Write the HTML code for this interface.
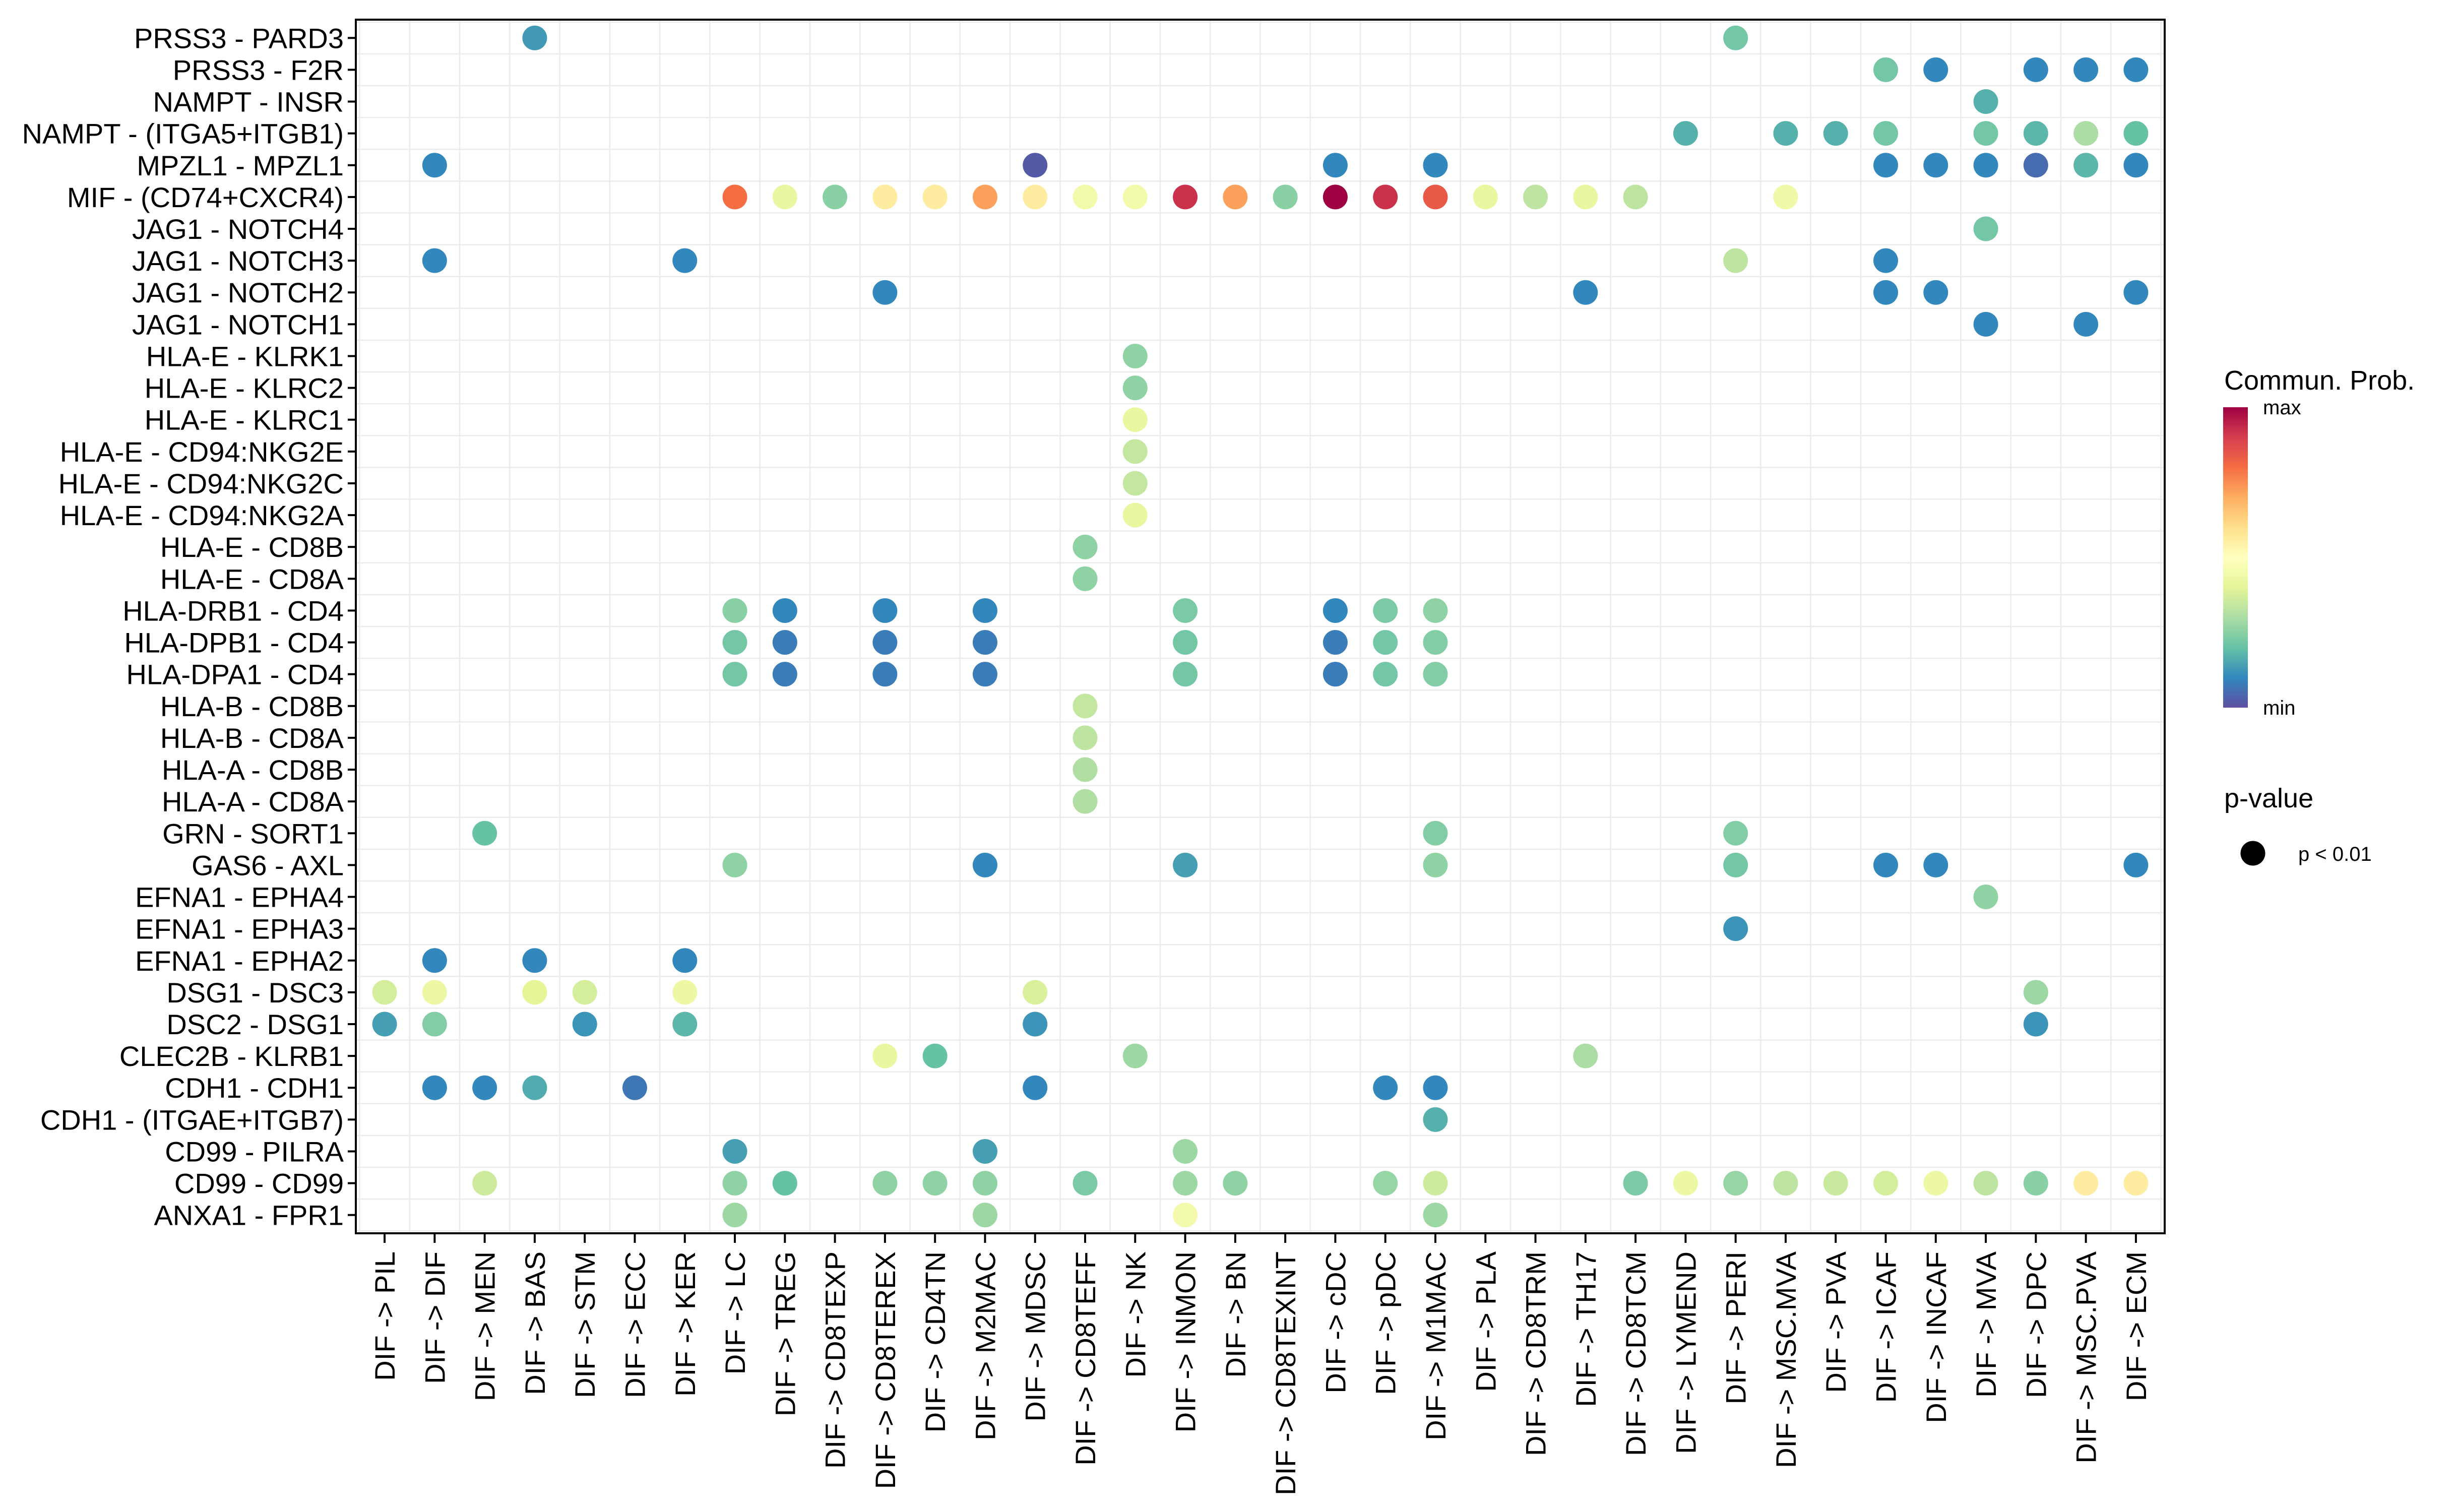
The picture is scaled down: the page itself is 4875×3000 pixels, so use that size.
<!DOCTYPE html>
<html><head><meta charset="utf-8"><style>
html,body{margin:0;padding:0;background:#fff;}
svg{display:block;}
text{font-family:"Liberation Sans",sans-serif;fill:#000;}
</style></head><body>
<svg id="chart" width="4875" height="3000" viewBox="0 0 4875 3000" xmlns="http://www.w3.org/2000/svg">
<rect x="0" y="0" width="4875" height="3000" fill="#fff"/>
<g id="grid"></g>
<g id="dots"></g>
<rect x="706" y="39" width="3589" height="2408" fill="none" stroke="#000" stroke-width="4"/>
<g id="yaxis"></g>
<g id="xaxis"></g>
<g>
<defs><linearGradient id="spec" x1="0" y1="1" x2="0" y2="0">
<stop offset="0" stop-color="#5e4fa2"/><stop offset="0.1" stop-color="#3288bd"/><stop offset="0.2" stop-color="#66c2a5"/><stop offset="0.3" stop-color="#abdda4"/><stop offset="0.4" stop-color="#e6f598"/><stop offset="0.5" stop-color="#ffffbf"/><stop offset="0.6" stop-color="#fee08b"/><stop offset="0.7" stop-color="#fdae61"/><stop offset="0.8" stop-color="#f46d43"/><stop offset="0.9" stop-color="#d53e4f"/><stop offset="1" stop-color="#9e0142"/>
</linearGradient></defs>
<text x="4413" y="773" font-size="54">Commun. Prob.</text>
<rect x="4411" y="808" width="49" height="596" fill="url(#spec)"/>
<text x="4490" y="822" font-size="40">max</text>
<text x="4490" y="1418" font-size="40">min</text>
</g>
<g>
<text x="4413" y="1602" font-size="54">p-value</text>
<circle cx="4470" cy="1693" r="24.5" fill="#000"/>
<text x="4560" y="1708" font-size="40">p &lt; 0.01</text>
</g>
</svg>
<script>
const columns = ["PIL","DIF","MEN","BAS","STM","ECC","KER","LC","TREG","CD8TEXP","CD8TEREX","CD4TN","M2MAC","MDSC","CD8TEFF","NK","INMON","BN","CD8TEXINT","cDC","pDC","M1MAC","PLA","CD8TRM","TH17","CD8TCM","LYMEND","PERI","MSC.MVA","PVA","ICAF","INCAF","MVA","DPC","MSC.PVA","ECM"];
const rows = ["PRSS3 - PARD3","PRSS3 - F2R","NAMPT - INSR","NAMPT - (ITGA5+ITGB1)","MPZL1 - MPZL1","MIF - (CD74+CXCR4)","JAG1 - NOTCH4","JAG1 - NOTCH3","JAG1 - NOTCH2","JAG1 - NOTCH1","HLA-E - KLRK1","HLA-E - KLRC2","HLA-E - KLRC1","HLA-E - CD94:NKG2E","HLA-E - CD94:NKG2C","HLA-E - CD94:NKG2A","HLA-E - CD8B","HLA-E - CD8A","HLA-DRB1 - CD4","HLA-DPB1 - CD4","HLA-DPA1 - CD4","HLA-B - CD8B","HLA-B - CD8A","HLA-A - CD8B","HLA-A - CD8A","GRN - SORT1","GAS6 - AXL","EFNA1 - EPHA4","EFNA1 - EPHA3","EFNA1 - EPHA2","DSG1 - DSC3","DSC2 - DSG1","CLEC2B - KLRB1","CDH1 - CDH1","CDH1 - (ITGAE+ITGB7)","CD99 - PILRA","CD99 - CD99","ANXA1 - FPR1"];
// each point: [row, column, probability (0=min,1=max)]
const P = [
["PRSS3 - PARD3","BAS",0.13],["PRSS3 - PARD3","PERI",0.22],
["PRSS3 - F2R","ICAF",0.22],["PRSS3 - F2R","INCAF",0.1],["PRSS3 - F2R","DPC",0.1],["PRSS3 - F2R","MSC.PVA",0.1],["PRSS3 - F2R","ECM",0.1],
["NAMPT - INSR","MVA",0.17],
["NAMPT - (ITGA5+ITGB1)","LYMEND",0.17],["NAMPT - (ITGA5+ITGB1)","MSC.MVA",0.17],["NAMPT - (ITGA5+ITGB1)","PVA",0.17],["NAMPT - (ITGA5+ITGB1)","ICAF",0.22],["NAMPT - (ITGA5+ITGB1)","MVA",0.22],["NAMPT - (ITGA5+ITGB1)","DPC",0.18],["NAMPT - (ITGA5+ITGB1)","MSC.PVA",0.3],["NAMPT - (ITGA5+ITGB1)","ECM",0.2],
["MPZL1 - MPZL1","DIF",0.1],["MPZL1 - MPZL1","MDSC",0.02],["MPZL1 - MPZL1","cDC",0.1],["MPZL1 - MPZL1","M1MAC",0.1],["MPZL1 - MPZL1","ICAF",0.1],["MPZL1 - MPZL1","INCAF",0.1],["MPZL1 - MPZL1","MVA",0.1],["MPZL1 - MPZL1","DPC",0.05],["MPZL1 - MPZL1","MSC.PVA",0.18],["MPZL1 - MPZL1","ECM",0.1],
["MIF - (CD74+CXCR4)","LC",0.8],["MIF - (CD74+CXCR4)","TREG",0.42],["MIF - (CD74+CXCR4)","CD8TEXP",0.25],["MIF - (CD74+CXCR4)","CD8TEREX",0.56],["MIF - (CD74+CXCR4)","CD4TN",0.56],["MIF - (CD74+CXCR4)","M2MAC",0.72],["MIF - (CD74+CXCR4)","MDSC",0.56],["MIF - (CD74+CXCR4)","CD8TEFF",0.45],["MIF - (CD74+CXCR4)","NK",0.45],["MIF - (CD74+CXCR4)","INMON",0.92],["MIF - (CD74+CXCR4)","BN",0.72],["MIF - (CD74+CXCR4)","CD8TEXINT",0.25],["MIF - (CD74+CXCR4)","cDC",1.0],["MIF - (CD74+CXCR4)","pDC",0.92],["MIF - (CD74+CXCR4)","M1MAC",0.84],["MIF - (CD74+CXCR4)","PLA",0.42],["MIF - (CD74+CXCR4)","CD8TRM",0.33],["MIF - (CD74+CXCR4)","TH17",0.42],["MIF - (CD74+CXCR4)","CD8TCM",0.33],["MIF - (CD74+CXCR4)","MSC.MVA",0.44],
["JAG1 - NOTCH4","MVA",0.22],
["JAG1 - NOTCH3","DIF",0.1],["JAG1 - NOTCH3","KER",0.1],["JAG1 - NOTCH3","PERI",0.33],["JAG1 - NOTCH3","ICAF",0.1],
["JAG1 - NOTCH2","CD8TEREX",0.1],["JAG1 - NOTCH2","TH17",0.1],["JAG1 - NOTCH2","ICAF",0.1],["JAG1 - NOTCH2","INCAF",0.1],["JAG1 - NOTCH2","ECM",0.1],
["JAG1 - NOTCH1","MVA",0.1],["JAG1 - NOTCH1","MSC.PVA",0.1],
["HLA-E - KLRK1","NK",0.26],["HLA-E - KLRC2","NK",0.26],["HLA-E - KLRC1","NK",0.42],["HLA-E - CD94:NKG2E","NK",0.34],["HLA-E - CD94:NKG2C","NK",0.34],["HLA-E - CD94:NKG2A","NK",0.42],
["HLA-E - CD8B","CD8TEFF",0.26],["HLA-E - CD8A","CD8TEFF",0.26],
["HLA-DRB1 - CD4","LC",0.25],["HLA-DRB1 - CD4","TREG",0.1],["HLA-DRB1 - CD4","CD8TEREX",0.1],["HLA-DRB1 - CD4","M2MAC",0.1],["HLA-DRB1 - CD4","INMON",0.23],["HLA-DRB1 - CD4","cDC",0.1],["HLA-DRB1 - CD4","pDC",0.23],["HLA-DRB1 - CD4","M1MAC",0.26],
["HLA-DPB1 - CD4","LC",0.22],["HLA-DPB1 - CD4","TREG",0.08],["HLA-DPB1 - CD4","CD8TEREX",0.08],["HLA-DPB1 - CD4","M2MAC",0.08],["HLA-DPB1 - CD4","INMON",0.22],["HLA-DPB1 - CD4","cDC",0.08],["HLA-DPB1 - CD4","pDC",0.22],["HLA-DPB1 - CD4","M1MAC",0.24],
["HLA-DPA1 - CD4","LC",0.22],["HLA-DPA1 - CD4","TREG",0.08],["HLA-DPA1 - CD4","CD8TEREX",0.08],["HLA-DPA1 - CD4","M2MAC",0.08],["HLA-DPA1 - CD4","INMON",0.22],["HLA-DPA1 - CD4","cDC",0.08],["HLA-DPA1 - CD4","pDC",0.22],["HLA-DPA1 - CD4","M1MAC",0.24],
["HLA-B - CD8B","CD8TEFF",0.34],["HLA-B - CD8A","CD8TEFF",0.33],["HLA-A - CD8B","CD8TEFF",0.31],["HLA-A - CD8A","CD8TEFF",0.31],
["GRN - SORT1","MEN",0.2],["GRN - SORT1","M1MAC",0.24],["GRN - SORT1","PERI",0.24],
["GAS6 - AXL","LC",0.26],["GAS6 - AXL","M2MAC",0.1],["GAS6 - AXL","INMON",0.14],["GAS6 - AXL","M1MAC",0.26],["GAS6 - AXL","PERI",0.22],["GAS6 - AXL","ICAF",0.1],["GAS6 - AXL","INCAF",0.1],["GAS6 - AXL","ECM",0.1],
["EFNA1 - EPHA4","MVA",0.26],["EFNA1 - EPHA3","PERI",0.12],
["EFNA1 - EPHA2","DIF",0.1],["EFNA1 - EPHA2","BAS",0.1],["EFNA1 - EPHA2","KER",0.1],
["DSG1 - DSC3","PIL",0.37],["DSG1 - DSC3","DIF",0.43],["DSG1 - DSC3","BAS",0.4],["DSG1 - DSC3","STM",0.37],["DSG1 - DSC3","KER",0.43],["DSG1 - DSC3","MDSC",0.38],["DSG1 - DSC3","DPC",0.28],
["DSC2 - DSG1","PIL",0.14],["DSC2 - DSG1","DIF",0.24],["DSC2 - DSG1","STM",0.12],["DSC2 - DSG1","KER",0.18],["DSC2 - DSG1","MDSC",0.12],["DSC2 - DSG1","DPC",0.12],
["CLEC2B - KLRB1","CD8TEREX",0.42],["CLEC2B - KLRB1","CD4TN",0.2],["CLEC2B - KLRB1","NK",0.28],["CLEC2B - KLRB1","TH17",0.3],
["CDH1 - CDH1","DIF",0.1],["CDH1 - CDH1","MEN",0.1],["CDH1 - CDH1","BAS",0.16],["CDH1 - CDH1","ECC",0.07],["CDH1 - CDH1","MDSC",0.1],["CDH1 - CDH1","pDC",0.1],["CDH1 - CDH1","M1MAC",0.1],
["CDH1 - (ITGAE+ITGB7)","M1MAC",0.17],
["CD99 - PILRA","LC",0.14],["CD99 - PILRA","M2MAC",0.14],["CD99 - PILRA","INMON",0.28],
["CD99 - CD99","MEN",0.36],["CD99 - CD99","LC",0.26],["CD99 - CD99","TREG",0.2],["CD99 - CD99","CD8TEREX",0.26],["CD99 - CD99","CD4TN",0.26],["CD99 - CD99","M2MAC",0.26],["CD99 - CD99","CD8TEFF",0.23],["CD99 - CD99","INMON",0.28],["CD99 - CD99","BN",0.26],["CD99 - CD99","pDC",0.27],["CD99 - CD99","M1MAC",0.36],["CD99 - CD99","CD8TCM",0.23],["CD99 - CD99","LYMEND",0.43],["CD99 - CD99","PERI",0.27],["CD99 - CD99","MSC.MVA",0.33],["CD99 - CD99","PVA",0.35],["CD99 - CD99","ICAF",0.37],["CD99 - CD99","INCAF",0.43],["CD99 - CD99","MVA",0.33],["CD99 - CD99","DPC",0.25],["CD99 - CD99","MSC.PVA",0.56],["CD99 - CD99","ECM",0.56],
["ANXA1 - FPR1","LC",0.28],["ANXA1 - FPR1","M2MAC",0.28],["ANXA1 - FPR1","INMON",0.45],["ANXA1 - FPR1","M1MAC",0.28]
];
const NS="http://www.w3.org/2000/svg";
const L=706,R=4295,T=39,B=2447;
const xs=(R-L)/(columns.length-1+1.15), x0=L+xs*0.575;
const ys=(B-T)/(rows.length-1+1.15), y0=T+ys*0.575;
function xScale(c){return x0+columns.indexOf(c)*xs;}
function yScale(r){return y0+rows.indexOf(r)*ys;}
const pal=["#5e4fa2","#3288bd","#66c2a5","#abdda4","#e6f598","#ffffbf","#fee08b","#fdae61","#f46d43","#d53e4f","#9e0142"];
function hex(h){return [1,3,5].map(i=>parseInt(h.substr(i,2),16));}
function color(v){v=Math.max(0,Math.min(1,v))*10;const i=Math.min(9,Math.floor(v)),f=v-i;const a=hex(pal[i]),b=hex(pal[i+1]);return "rgb("+a.map((x,k)=>Math.round(x+(b[k]-x)*f)).join(",")+")";}
function mk(tag,attrs,parent){const e=document.createElementNS(NS,tag);for(const k in attrs)e.setAttribute(k,attrs[k]);parent.appendChild(e);return e;}
const grid=document.getElementById('grid'),dots=document.getElementById('dots'),ya=document.getElementById('yaxis'),xa=document.getElementById('xaxis');
for(let i=0;i<=columns.length;i++){const x=x0+(i-0.5)*xs;if(x<=L+2||x>=R-2)continue;const l=mk('line',{x1:x,x2:x,y1:T,y2:B,stroke:'#ebebeb','stroke-width':2.5},grid);

}
for(let i=0;i<=rows.length;i++){const y=y0+(i-0.5)*ys;if(y<=T+2||y>=B-2)continue;const l=mk('line',{x1:L,x2:R,y1:y,y2:y,stroke:'#ebebeb','stroke-width':2.5},grid);

}
rows.forEach(r=>{const y=yScale(r);
const t=mk('line',{x1:L-16,x2:L,y1:y,y2:y,stroke:'#000','stroke-width':4},ya);


const tx=mk('text',{x:L-24,y:y+20,'font-size':56,'text-anchor':'end'},ya);tx.textContent=r;

});
columns.forEach(c=>{const x=xScale(c);
const t=mk('line',{x1:x,x2:x,y1:B,y2:B+19,stroke:'#000','stroke-width':4},xa);


const tx=mk('text',{x:0,y:0,'font-size':56,'text-anchor':'end',transform:'translate('+(x+20)+','+(B+36)+') rotate(-90)'},xa);tx.textContent='DIF -> '+c;

});
P.forEach(p=>{const c=mk('circle',{cx:xScale(p[1]),cy:yScale(p[0]),r:24.5,fill:color(p[2])},dots);

});
</script>
</body></html>
